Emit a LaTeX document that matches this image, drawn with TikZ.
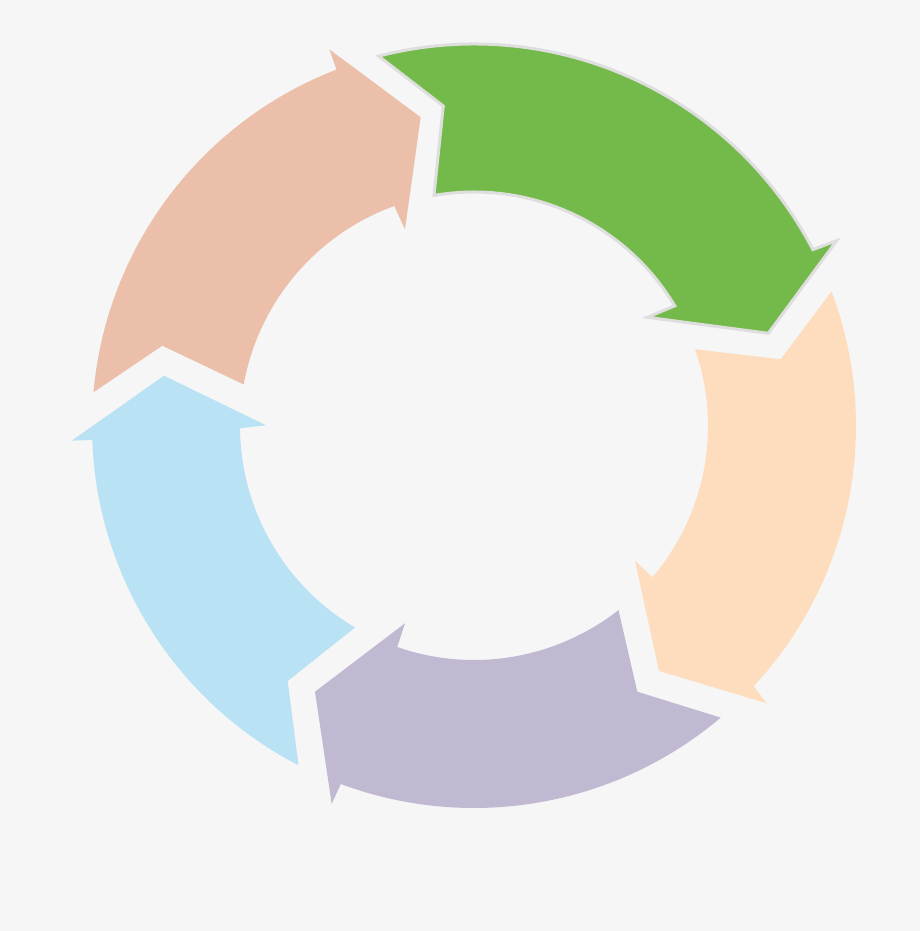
\documentclass[tikz,border=0pt]{standalone}
\usepackage{tikz}
\definecolor{bgcol}{RGB}{246,246,246}
\definecolor{greencol}{RGB}{115,186,74}
\definecolor{peachcol}{RGB}{253,221,190}
\definecolor{purplecol}{RGB}{193,185,210}
\definecolor{bluecol}{RGB}{185,226,244}
\definecolor{salmoncol}{RGB}{235,191,170}
\definecolor{rimcol}{RGB}{222,222,222}
\begin{document}
\begin{tikzpicture}[x=1pt, y=1pt, piece/.style={fill=#1}, rim/.style={draw=rimcol, line width=3pt, line join=miter}]

\fill[bgcol] (-474,-505) rectangle (446,426);
\useasboundingbox (-474,-505) rectangle (446,426);
\coordinate (c) at (0,0);

\filldraw[piece=greencol, rim] (104.46:382) -- (-30.7,320) -- (99.85:234)
arc[start angle=99.85, end angle=30.9, radius=234]
-- (173.3,108.7) -- (294.3,92.7) -- (362.7,185.3) -- (27.5:382)
arc[start angle=27.5, end angle=104.46, radius=382] -- cycle;

\fill[piece=peachcol] (20.63:382) -- (306.7,66.7) -- (19.15:234)
arc[start angle=19.15, end angle=-40.3, radius=234]
-- (161,-134.7) -- (185,-245) -- (292.7,-277.3) -- (-42.95:382)
arc[start angle=-42.95, end angle=20.63, radius=382] -- cycle;

\fill[piece=purplecol] (-49.77:382) -- (163.3,-265.7) -- (-51.87:234)
arc[start angle=-51.87, end angle=-109.16, radius=234]
-- (-69,-197.3) -- (-159,-265.7) -- (-142.3,-378) -- (-110.41:382)
arc[start angle=-110.41, end angle=-49.77, radius=382] -- cycle;

\fill[piece=bluecol] (-117.35:382) -- (-186.3,-255) -- (-120.54:234)
arc[start angle=-120.54, end angle=-179.44, radius=234]
-- (-208,0.7) -- (-310,50.3) -- (-402.3,-14.7) -- (-177.9:382)
arc[start angle=-177.9, end angle=-117.35, radius=382] -- cycle;

\fill[piece=salmoncol] (174.93:382) -- (-311.7,80.3) -- (169.77:234)
arc[start angle=169.77, end angle=109.91, radius=234]
-- (-69,196.7) -- (-53.3,308.7) -- (-144.7,376.7) -- (111.09:382)
arc[start angle=111.09, end angle=174.93, radius=382] -- cycle;

\end{tikzpicture}
\end{document}
